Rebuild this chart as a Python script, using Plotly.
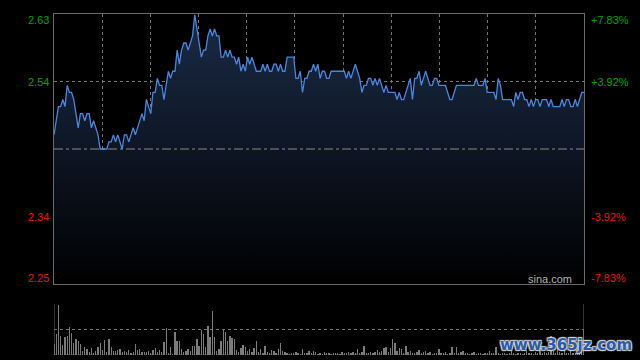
import plotly.graph_objects as go

# ---- data ----
pre_close = 2.44
pct_ticks = [0.0783, 0.0392, -0.0392, -0.0783]
price_labels = ["2.63", "2.54", "2.34", "2.25"]
pct_labels = ["+7.83%", "+3.92%", "-3.92%", "-7.83%"]

prices = [
    # 0-21
    2.46, 2.48, 2.50, 2.50, 2.51, 2.50, 2.53, 2.52, 2.52, 2.51,
    2.49, 2.47, 2.49, 2.49, 2.48, 2.49, 2.49, 2.47, 2.48, 2.47,
    2.46, 2.44,
    # 22-43
    2.44, 2.44, 2.44, 2.45, 2.45, 2.46, 2.45, 2.46, 2.45, 2.44,
    2.46, 2.46, 2.45, 2.46, 2.47, 2.46, 2.47, 2.48, 2.49, 2.48,
    2.51, 2.50,
    # 44-65
    2.49, 2.52, 2.52, 2.54, 2.53, 2.53, 2.51, 2.53, 2.55, 2.54,
    2.55, 2.55, 2.58, 2.56, 2.58, 2.59, 2.59, 2.58, 2.59, 2.60,
    2.63, 2.61,
    # 66-87
    2.59, 2.57, 2.58, 2.58, 2.60, 2.61, 2.60, 2.61, 2.60, 2.60,
    2.57, 2.57, 2.58, 2.57, 2.58, 2.57, 2.57, 2.56, 2.57, 2.55,
    2.56, 2.55,
    # 88-109
    2.57, 2.56, 2.57, 2.56, 2.55, 2.55, 2.55, 2.56, 2.55, 2.56,
    2.55, 2.55, 2.56, 2.56, 2.55, 2.56, 2.55, 2.55, 2.57, 2.57,
    2.57, 2.57,
    # 110-131
    2.54, 2.54, 2.55, 2.52, 2.54, 2.54, 2.55, 2.55, 2.56, 2.55,
    2.56, 2.54, 2.55, 2.55, 2.54, 2.54, 2.55, 2.55, 2.55, 2.55,
    2.55, 2.55,
    # 132-153
    2.55, 2.54, 2.55, 2.54, 2.55, 2.56, 2.55, 2.54, 2.52, 2.53,
    2.53, 2.54, 2.54, 2.53, 2.54, 2.53, 2.54, 2.53, 2.52, 2.53,
    2.52, 2.52,
    # 154-175
    2.52, 2.52, 2.51, 2.52, 2.51, 2.51, 2.52, 2.53, 2.54, 2.51,
    2.54, 2.54, 2.55, 2.53, 2.54, 2.55, 2.54, 2.53, 2.53, 2.54,
    2.54, 2.53,
    # 176-197
    2.53, 2.53, 2.53, 2.52, 2.51, 2.51, 2.52, 2.53, 2.53, 2.53,
    2.53, 2.53, 2.53, 2.53, 2.53, 2.53, 2.54, 2.53, 2.53, 2.53,
    2.54, 2.52,
    # 198-219
    2.52, 2.52, 2.52, 2.51, 2.54, 2.53, 2.51, 2.51, 2.51, 2.51,
    2.51, 2.50, 2.52, 2.51, 2.52, 2.52, 2.51, 2.51, 2.50, 2.51,
    2.50, 2.51,
    # 220-241
    2.51, 2.50, 2.51, 2.51, 2.51, 2.50, 2.51, 2.50, 2.50, 2.50,
    2.50, 2.51, 2.50, 2.51, 2.51, 2.50, 2.50, 2.51, 2.50, 2.51,
    2.52, 2.52,
]

volumes = [
    # 0-120
    220, 410, 990, 375, 200, 360, 380, 550, 440, 230,
    310, 275, 215, 85, 165, 120, 65, 145, 35, 80,
    165, 240, 95, 295, 65, 310, 165, 80, 80, 100,
    120, 65, 85, 55, 100, 35, 65, 215, 100, 110,
    55, 50, 65, 80, 30, 100, 145, 60, 100, 55,
    250, 530, 30, 150, 20, 460, 265, 280, 110, 65,
    85, 110, 80, 175, 175, 310, 175, 495, 415, 165,
    575, 360, 855, 360, 80, 110, 280, 490, 460, 265,
    375, 330, 315, 100, 65, 130, 195, 150, 80, 120,
    55, 130, 280, 65, 110, 45, 175, 65, 45, 100,
    80, 45, 110, 240, 80, 65, 45, 20, 45, 35,
    65, 45, 20, 110, 35, 45, 80, 35, 80, 65,
    20,
    # 121-241
    40, 20, 50, 30, 40, 20, 45, 30, 40,
    25, 50, 30, 40, 55, 30, 60, 45, 110, 40,
    60, 180, 40, 30, 50, 40, 60, 100, 50, 70,
    130, 165, 60, 130, 310, 230, 80, 130, 110, 40,
    180, 50, 85, 40, 30, 50, 100, 40, 60, 80,
    30, 50, 20, 40, 30, 110, 40, 30, 50, 20,
    40, 150, 40, 150, 30, 50, 80, 30, 40, 20,
    30, 50, 20, 40, 30, 20, 40, 30, 85, 30,
    40, 150, 30, 20, 40, 30, 20, 40, 80, 30,
    20, 30, 40, 20, 30, 100, 30, 40, 20, 50,
    30, 130, 40, 60, 30, 50, 375, 80, 40, 200,
    50, 30, 110, 40, 30, 100, 40, 30, 60, 40,
    200, 500,
]

minutes = list(range(len(prices)))
n_last = len(prices) - 1
vlines = [k * n_last / 11 for k in range(1, 11)]

ytop = pre_close * (1 + pct_ticks[0])
ybot = pre_close * (1 + pct_ticks[3])
grid_levels = [pre_close * (1 + p) for p in pct_ticks[1:3]]

GREEN = "#00a000"
RED = "#e01b0b"
GRID = "#737373"
BORDER = "#6a6a6a"
FONT = "Liberation Sans, Arial, sans-serif"

fig = go.Figure()

fig.add_trace(go.Scatter(
    x=minutes, y=prices, mode="lines",
    line=dict(color="#4a86dc", width=1.3),
    fill="tozeroy",
    fillgradient=dict(type="vertical", start=ybot, stop=ytop,
                      colorscale=[[0, "#000000"], [0.55, "#0f1828"], [1, "#1a2a47"]]),
    hoverinfo="skip", showlegend=False,
    xaxis="x", yaxis="y",
))

fig.add_trace(go.Bar(
    x=minutes, y=volumes, marker=dict(color="#7a7a7a", line=dict(width=0)),
    width=0.6, hoverinfo="skip", showlegend=False,
    xaxis="x2", yaxis="y2",
))

xd = [54 / 640, 584 / 640]
fig.update_layout(
    width=640, height=360,
    margin=dict(l=0, r=0, t=0, b=0),
    paper_bgcolor="#000000", plot_bgcolor="#000000",
    hovermode=False,
    xaxis=dict(domain=xd, range=[0, n_last], tickvals=vlines, showticklabels=False,
               ticks="", showgrid=True, gridcolor=GRID, griddash="dot", gridwidth=1,
               zeroline=False, showline=True, linecolor=BORDER, linewidth=1, mirror=True),
    yaxis=dict(domain=[1 - 284 / 360, 1 - 14 / 360], range=[ybot, ytop],
               tickvals=grid_levels, showticklabels=False, ticks="",
               showgrid=True, gridcolor=GRID, griddash="dot", gridwidth=1,
               zeroline=False, showline=True, linecolor=BORDER, linewidth=1, mirror=True),
    xaxis2=dict(domain=xd, range=[0, n_last], showticklabels=False, ticks="",
                showgrid=False, zeroline=False, showline=False, anchor="y2"),
    yaxis2=dict(domain=[1 - 355 / 360, 1 - 304 / 360], range=[0, 1000],
                tickvals=[500, 1000], showticklabels=False, ticks="",
                showgrid=True, gridcolor=GRID, griddash="dot", gridwidth=1,
                zeroline=False, showline=False, anchor="x2"),
    bargap=0,
)

# previous close dash-dot line
fig.add_shape(type="line", xref="x", yref="y", x0=0, x1=n_last, y0=pre_close, y1=pre_close,
              line=dict(color="#8a8a8a", width=1, dash="dashdot"))

# volume panel borders
for xx in [0, n_last]:
    fig.add_shape(type="line", xref="x2", yref="y2", x0=xx, x1=xx, y0=0, y1=1000,
                  line=dict(color=BORDER, width=1))
fig.add_shape(type="line", xref="x2", yref="y2", x0=0, x1=n_last, y0=0, y1=0,
              line=dict(color=GRID, width=1, dash="dot"))

# tick labels
lab_y = [20, 82, 217, 278]
for txt, pct, yy, c in zip(price_labels, pct_labels, lab_y,
                            [GREEN, GREEN, RED, RED]):
    fig.add_annotation(x=51 / 640, y=1 - yy / 360, xref="paper", yref="paper",
                       text=txt, showarrow=False, xanchor="right", yanchor="middle",
                       font=dict(family=FONT, size=11, color=c))
    fig.add_annotation(x=589 / 640, y=1 - yy / 360, xref="paper", yref="paper",
                       text=pct, showarrow=False, xanchor="left", yanchor="middle",
                       font=dict(family=FONT, size=11, color=c))

fig.add_annotation(x=574 / 640, y=1 - 279 / 360, xref="paper", yref="paper",
                   text="sina.com", showarrow=False, xanchor="right", yanchor="middle",
                   font=dict(family=FONT, size=11, color="#b0b0b0"))

fig.add_annotation(x=634 / 640, y=1 - 345 / 360, xref="paper", yref="paper",
                   text="www.365jz.com", showarrow=False, xanchor="right", yanchor="middle",
                   font=dict(family="DejaVu Sans, sans-serif", size=15, color="#2a5aa8",
                             weight="bold",
                             shadow="1px 1px 1px #d8d8d8, -1px -1px 1px #d8d8d8, 1px -1px 1px #d8d8d8, -1px 1px 1px #d8d8d8"))

fig.write_html("out.html", config={"displayModeBar": False, "staticPlot": True})

# remove the default page margin so the 640x360 figure fills the window
with open("out.html", "r", encoding="utf-8") as f:
    html = f.read()
html = html.replace("<head>", "<head><style>html,body{margin:0;padding:0;overflow:hidden;background:#000;}</style>", 1)
with open("out.html", "w", encoding="utf-8") as f:
    f.write(html)
